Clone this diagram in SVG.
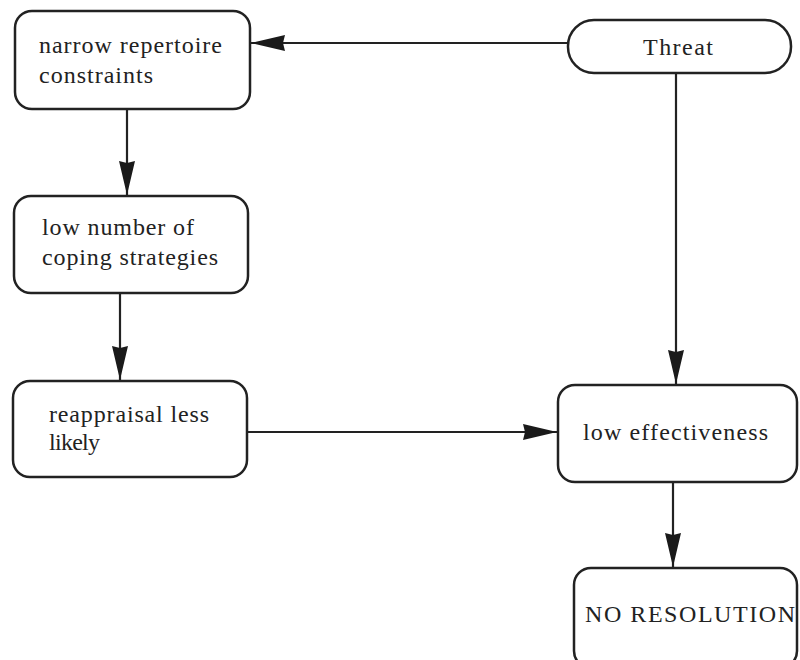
<svg xmlns="http://www.w3.org/2000/svg" width="800" height="660" viewBox="0 0 800 660">
  <defs>
    <style>
      .box { fill: #ffffff; stroke: #222222; stroke-width: 2.5; }
      .edge { fill: none; stroke: #222222; stroke-width: 2.2; }
      .label { font-family: "Liberation Serif", "Times New Roman", serif; font-size: 24px; fill: #222222; }
    </style>
    <marker id="arrow" viewBox="0 0 34 18" refX="34" refY="9" markerWidth="34" markerHeight="18" markerUnits="userSpaceOnUse" orient="auto">
      <path d="M0,1 L34,9 L0,17 L2,9 Z" fill="#1a1a1a"/>
    </marker>
  </defs>
  <rect width="800" height="660" fill="#ffffff"/>

  <g id="connectors">
    <line class="edge" x1="568" y1="43" x2="251" y2="43" marker-end="url(#arrow)"/>
    <line class="edge" x1="127" y1="109" x2="127" y2="195" marker-end="url(#arrow)"/>
    <line class="edge" x1="120" y1="293" x2="120" y2="380" marker-end="url(#arrow)"/>
    <line class="edge" x1="247" y1="432" x2="557" y2="432" marker-end="url(#arrow)"/>
    <line class="edge" x1="676" y1="73" x2="676" y2="384" marker-end="url(#arrow)"/>
    <line class="edge" x1="673" y1="482" x2="673" y2="567" marker-end="url(#arrow)"/>
  </g>

  <g id="narrow-repertoire">
    <rect class="box" x="15" y="11" width="235" height="98" rx="17" ry="17"/>
    <text class="label" x="39" y="53" textLength="183" lengthAdjust="spacing">narrow repertoire</text>
    <text class="label" x="39" y="83" textLength="114" lengthAdjust="spacing">constraints</text>
  </g>

  <g id="threat">
    <rect class="box" x="568" y="20" width="223" height="53" rx="26" ry="26"/>
    <text class="label" x="643" y="55" textLength="70" lengthAdjust="spacing">Threat</text>
  </g>

  <g id="coping-strategies">
    <rect class="box" x="14" y="196" width="234" height="97" rx="17" ry="17"/>
    <text class="label" x="42" y="235" textLength="152" lengthAdjust="spacing">low number of</text>
    <text class="label" x="42" y="265" textLength="176" lengthAdjust="spacing">coping strategies</text>
  </g>

  <g id="reappraisal">
    <rect class="box" x="13" y="381" width="234" height="96" rx="17" ry="17"/>
    <text class="label" x="49" y="422" textLength="160" lengthAdjust="spacing">reappraisal less</text>
    <text class="label" x="49" y="450" textLength="51" lengthAdjust="spacing">likely</text>
  </g>

  <g id="low-effectiveness">
    <rect class="box" x="558" y="385" width="239" height="97" rx="17" ry="17"/>
    <text class="label" x="583" y="440" textLength="185" lengthAdjust="spacing">low effectiveness</text>
  </g>

  <g id="no-resolution">
    <rect class="box" x="574" y="568" width="223" height="100" rx="17" ry="17"/>
    <text class="label" x="585" y="622" textLength="210" lengthAdjust="spacing">NO RESOLUTION</text>
  </g>
</svg>
